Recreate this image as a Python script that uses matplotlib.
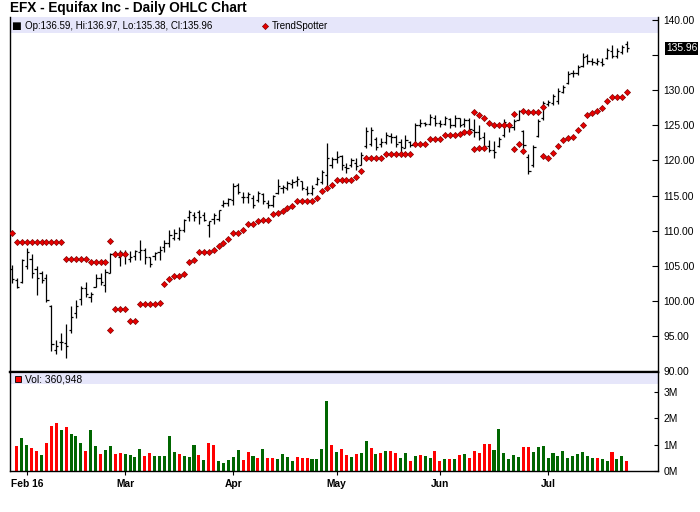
"""EFX daily OHLC chart with TrendSpotter dots and volume panel."""

import matplotlib

matplotlib.use("Agg")
import matplotlib.pyplot as plt
import numpy as np
from matplotlib.patches import Rectangle

plt.rcParams["font.family"] = ["Liberation Sans", "DejaVu Sans"]

# ---- data ----
opens = [
    104.6, 103.0, 102.7, 105.0, 106.0, 104.6, 103.9, 103.2, 99.3, 93.0,
    94.2, 94.0, 95.8, 98.2, 100.2, 101.8, 100.6, 101.9, 103.2, 102.2,
    104.0, 106.7, 106.3, 106.5, 106.0, 106.4, 107.0, 107.2, 106.2, 106.4,
    107.0, 107.7, 108.2, 108.9, 109.0, 110.1, 112.0, 112.2, 112.7, 112.2,
    110.8, 111.7, 111.7, 113.6, 113.9, 114.4, 116.5, 114.8, 114.8, 114.6,
    114.3, 115.2, 114.0, 113.6, 115.3, 116.0, 116.0, 116.6, 117.0, 117.0,
    115.9, 115.3, 116.6, 116.9, 117.9, 119.3, 120.2, 120.6, 119.1, 119.4,
    119.6, 119.4, 122.0, 122.4, 123.0, 122.3, 122.6, 123.5, 123.4, 122.6,
    121.8, 122.6, 122.4, 125.1, 125.3, 125.2, 126.0, 125.3, 125.2, 125.9,
    125.0, 126.0, 125.2, 125.8, 124.4, 124.0, 123.3, 122.0, 121.5, 122.0,
    123.6, 125.0, 124.8, 125.8, 124.2, 120.5, 119.3, 123.5, 126.0, 128.0,
    128.2, 128.5, 129.8, 131.0, 132.4, 132.5, 133.5, 134.9, 134.2, 133.9,
    134.0, 134.6, 135.6, 134.9, 135.4, 136.59,
]
highs = [
    105.1, 103.2, 105.9, 107.5, 106.7, 105.0, 104.2, 103.8, 99.4, 94.4,
    95.4, 96.7, 99.3, 100.1, 102.1, 102.7, 101.3, 103.8, 103.9, 104.6,
    106.8, 107.1, 107.2, 107.2, 107.1, 107.2, 108.7, 107.5, 106.3, 107.0,
    107.8, 108.7, 110.1, 110.3, 110.5, 111.7, 113.0, 112.7, 113.0, 112.7,
    111.4, 112.5, 113.0, 114.3, 114.7, 116.8, 116.8, 115.5, 115.5, 115.1,
    115.7, 115.4, 114.3, 115.1, 117.3, 116.5, 117.1, 117.4, 117.8, 117.1,
    116.3, 116.5, 117.6, 118.7, 122.5, 120.5, 121.4, 120.8, 119.7, 120.3,
    120.3, 121.2, 124.7, 124.7, 123.4, 123.2, 124.1, 123.95, 123.6, 123.0,
    123.6, 122.8, 125.3, 125.9, 125.5, 126.6, 126.5, 125.8, 126.3, 126.0,
    126.5, 126.0, 126.0, 126.0, 125.9, 125.0, 124.1, 122.9, 122.7, 123.4,
    125.85, 125.3, 125.85, 127.2, 124.4, 120.9, 122.2, 125.85, 128.5, 128.6,
    129.5, 130.3, 130.75, 132.8, 132.9, 133.6, 135.26, 135.16, 134.54, 134.54,
    134.54, 135.97, 136.44, 135.97, 136.44, 136.97,
]
lows = [
    102.5, 101.8, 102.5, 104.6, 103.3, 100.8, 102.6, 99.9, 92.9, 92.4,
    93.0, 91.8, 95.4, 97.5, 99.4, 100.6, 99.9, 101.9, 102.2, 101.3,
    103.9, 106.2, 104.9, 105.3, 105.6, 105.8, 105.8, 105.2, 104.8, 105.8,
    105.8, 106.9, 107.7, 108.6, 108.7, 109.8, 111.4, 111.4, 111.0, 111.3,
    109.1, 111.0, 111.3, 113.4, 113.5, 113.6, 115.2, 114.0, 114.0, 113.2,
    114.1, 113.8, 113.2, 113.4, 115.2, 115.4, 115.8, 116.0, 116.3, 115.8,
    115.1, 115.1, 116.5, 116.7, 115.8, 118.9, 119.6, 118.6, 118.2, 119.1,
    118.6, 119.3, 121.7, 122.05, 121.5, 121.9, 122.4, 122.5, 121.9, 121.1,
    121.7, 121.9, 122.3, 124.8, 124.9, 125.0, 124.9, 124.7, 125.0, 124.6,
    124.7, 124.7, 124.8, 124.1, 123.3, 122.9, 121.6, 121.2, 120.3, 121.9,
    123.4, 124.1, 124.4, 125.7, 121.7, 118.1, 119.1, 123.4, 125.7, 127.75,
    127.9, 128.1, 129.56, 130.9, 131.84, 132.17, 133.36, 133.8, 133.6, 133.6,
    133.45, 134.4, 134.54, 134.54, 135.16, 135.38,
]
closes = [
    103.1, 101.9, 105.8, 106.9, 103.9, 103.2, 103.0, 100.1, 93.9, 93.6,
    94.2, 93.5, 97.7, 99.3, 101.8, 101.0, 101.0, 103.3, 102.7, 104.1,
    106.7, 106.7, 107.0, 106.5, 106.3, 107.1, 107.2, 106.2, 105.3, 106.8,
    107.3, 108.3, 109.4, 109.7, 110.1, 111.5, 112.6, 112.0, 112.0, 111.5,
    111.3, 112.2, 112.9, 114.0, 114.5, 116.4, 115.5, 114.8, 115.2, 113.6,
    115.3, 114.2, 113.6, 114.9, 116.3, 116.2, 116.8, 116.9, 117.3, 116.0,
    115.4, 116.0, 117.3, 118.4, 120.3, 120.2, 120.5, 119.3, 118.9, 120.1,
    119.2, 120.8, 124.2, 124.4, 121.9, 122.6, 123.6, 123.4, 122.3, 121.9,
    122.9, 122.2, 125.0, 125.4, 125.2, 126.2, 125.3, 125.2, 126.0, 125.0,
    126.0, 125.0, 125.8, 124.5, 124.0, 123.2, 122.1, 121.5, 121.2, 123.0,
    125.5, 124.8, 125.6, 127.0, 122.2, 118.5, 121.9, 125.6, 128.2, 128.3,
    129.2, 129.9, 130.5, 132.3, 132.5, 133.3, 134.8, 134.2, 134.0, 134.2,
    133.7, 135.7, 134.9, 135.6, 136.2, 135.96,
]

# TrendSpotter dots: two rows, gaps where no dot is drawn
N = None
trend_upper = (
    [109.6] + [108.4] * 10 + [105.9] * 5 + [105.5] * 4 + [108.5] + [106.7] * 3
    + [N] * 70
    + [126.85, 126.4, 126.0, 125.4, 125.0, 125.0, 125.0, 125.0, 126.6, N,
       127.0, 126.9, 126.9, 126.9, 127.6]
    + [N] * 17
)
trend_lower = (
    [N] * 20
    + [95.9, 98.9, 98.9, 98.9, 97.1, 97.1, 99.5, 99.5, 99.6, 99.6,
       99.7, 102.35, 103.1, 103.5, 103.5, 103.8, 105.5, 105.8, 106.9, 106.9,
       106.9, 107.3, 107.8, 108.3, 108.8, 109.6, 109.7, 110.1, 110.9, 110.9,
       111.3, 111.5, 111.5, 112.3, 112.5, 112.8, 113.2, 113.5, 114.2, 114.2,
       114.2, 114.2, 114.6, 115.6, 116.0, 116.5, 117.2, 117.2, 117.2, 117.2,
       117.6, 118.5, 120.4, 120.4, 120.4, 120.4, 120.9, 120.9, 120.9, 120.9,
       120.9, 120.9, 122.3, 122.3, 122.3, 123.0, 123.1, 123.1, 123.6, 123.6,
       123.6, 123.8, 124.0, 124.0, 121.6, 121.7, 121.7]
    + [N] * 5
    + [121.6, 122.3, 121.4]
    + [N] * 3
    + [120.6, 120.4, 121.1, 122.0, 122.9, 123.2, 123.4, 124.3, 125.1, 126.4,
       126.7, 127.0, 127.4, 128.4, 129.1, 129.1, 129.1, 129.8]
)

# volume in millions of shares, and up (g) / down (r) colouring per bar
volume_m = [
    0, .95, 1.25, .98, .87, .76, .61, 1.06, 1.70, 1.82,
    1.55, 1.67, 1.40, 1.33, 1.06, .76, 1.55, .95, .64, .80,
    .95, .64, .68, .64, .61, .53, .83, .57, .68, .57,
    .57, .57, 1.33, .72, .64, .57, .53, .98, .61, .42,
    1.06, .98, .38, .30, .42, .53, .80, .42, .72, .57,
    .49, .83, .49, .49, .45, .64, .53, .38, .53, .49,
    .49, .45, .45, .83, 2.65, .98, .72, .83, .61, .52,
    .64, .68, 1.14, .87, .64, .68, .76, .76, .68, .49,
    .68, .38, .57, .61, .57, .49, .76, .38, .45, .45,
    .45, .61, .64, .49, .76, .68, 1.02, 1.02, .80, 1.59,
    .68, .45, .61, .53, .91, .91, .72, .91, .95, .49,
    .68, .57, .76, .49, .55, .64, .72, .57, .49, .49,
    .45, .38, .72, .45, .57, .361,
]
volume_dir = (
    "grggrrgrrr" "grgggrggrg" "grrggggrrg" "ggggrgggrg" "rrgggggrrg"
    "rgrrggggrr" "rggggrgrrg" "rggrgrgrrg" "grgrggrrgr" "grgrrrrrgg"
    "ggggrrgggg" "gggggggggr" "ggrggr"
)

month_labels = ["Feb 16", "Mar", "Apr", "May", "Jun", "Jul"]
month_bars = [3, 23, 45, 66, 87, 109]

price_ticks = list(range(90, 141, 5))
volume_ticks = [0, 1, 2, 3]
last_volume = "360,948"

# ---- layout helpers (pixel boxes on a 700x512 canvas) ----
W, H = 700, 512


def _box(x0, y0, x1, y1):
    return [x0 / W, 1 - y1 / H, (x1 - x0) / W, (y1 - y0) / H]


def _fx(px):
    return px / W


def _fy(py):
    return 1 - py / H


RED = "#ff0000"
GREEN = "#006600"
BAND = "#e6e6fa"
DOT_FACE = "#e80000"
DOT_EDGE = "#800000"
LEGEND_SIZE = 7.0
TICK_SIZE = 7.4

fig = plt.figure(figsize=(7, 5.12), dpi=100)
ax = fig.add_axes(_box(10, 17, 658, 372))
axv = fig.add_axes(_box(10, 372, 658, 471), sharex=ax)

n = len(closes)
x = np.arange(n)
o = np.array(opens)
h = np.array(highs)
lo = np.array(lows)
c = np.array(closes)

# OHLC bars
ax.vlines(x, lo, h, color="black", linewidth=0.9, zorder=3)
ax.hlines(o, x - 0.45, x, color="black", linewidth=0.9, zorder=3)
ax.hlines(c, x, x + 0.45, color="black", linewidth=0.9, zorder=3)

# TrendSpotter
up = np.array([np.nan if v is None else v for v in trend_upper], dtype=float)
dn = np.array([np.nan if v is None else v for v in trend_lower], dtype=float)
for series in (up, dn):
    ax.plot(x, series, linestyle="none", marker="D", markersize=3.1,
            markerfacecolor=DOT_FACE, markeredgecolor=DOT_EDGE,
            markeredgewidth=0.5, zorder=4)

ax.set_xlim(-0.41, 131.35)
ax.set_ylim(89.86, 140.43)
ax.yaxis.tick_right()
ax.set_yticks(price_ticks)
# the 135.00 label sits under the last-close tag, as in the reference
ax.set_yticklabels(["" if t == 135 else f"{t:.2f}" for t in price_ticks])
ax.tick_params(axis="y", direction="in", length=4, width=0.8, pad=4,
               labelsize=TICK_SIZE, colors="black")
ax.tick_params(axis="x", bottom=False, labelbottom=False)
ax.spines["top"].set_visible(False)
ax.spines["bottom"].set_linewidth(1.6)
for side in ("left", "right"):
    ax.spines[side].set_linewidth(1.0)

# legend band on the price panel
ax.add_patch(Rectangle((0, 1 - 16 / 355), 1, 16 / 355, transform=ax.transAxes,
                       facecolor=BAND, edgecolor="none", zorder=1))
fig.text(_fx(16), _fy(26), "\u25a0", fontsize=7.5, color="black",
         ha="center", va="center", family=["DejaVu Sans"])
fig.text(_fx(25), _fy(26),
         f"Op:{opens[-1]:.2f}, Hi:{highs[-1]:.2f}, Lo:{lows[-1]:.2f}, Cl:{closes[-1]:.2f}",
         fontsize=LEGEND_SIZE, ha="left", va="center")
fig.lines.append(plt.Line2D([_fx(265)], [_fy(26)], transform=fig.transFigure,
                            marker="D", markersize=3.1, linestyle="none",
                            markerfacecolor=DOT_FACE, markeredgecolor=DOT_EDGE,
                            markeredgewidth=0.5))
fig.text(_fx(272), _fy(26), "TrendSpotter", fontsize=LEGEND_SIZE, ha="left", va="center")

# last close tag
ax.text(1.012, closes[-1], f"{closes[-1]:.2f}", transform=ax.get_yaxis_transform(),
        fontsize=TICK_SIZE, color="white", ha="left", va="center",
        bbox=dict(boxstyle="square,pad=0.12", facecolor="black", edgecolor="none"))

# volume panel
colors = [GREEN if d == "g" else RED for d in volume_dir]
axv.bar(x, volume_m, width=0.62, color=colors, zorder=2)
axv.set_ylim(0, 3.75)
axv.yaxis.tick_right()
axv.set_yticks(volume_ticks)
axv.set_yticklabels([f"{t}M" for t in volume_ticks])
axv.tick_params(axis="y", direction="in", length=3, width=0.8, pad=4,
                labelsize=TICK_SIZE)
axv.set_xticks(month_bars)
axv.set_xticklabels(month_labels, fontweight="bold")
axv.tick_params(axis="x", direction="out", length=3, width=0.8, pad=3,
                labelsize=TICK_SIZE)
axv.spines["top"].set_linewidth(1.6)
for side in ("left", "right", "bottom"):
    axv.spines[side].set_linewidth(1.0)

axv.add_patch(Rectangle((0, 1 - 12 / 99), 1, 12 / 99, transform=axv.transAxes,
                        facecolor=BAND, edgecolor="none", zorder=1))
axv.add_patch(Rectangle((_fx(15), _fy(382)), 6 / W, 6 / H, transform=fig.transFigure,
                        facecolor=RED, edgecolor="black", linewidth=0.6,
                        zorder=5, clip_on=False))
fig.text(_fx(25), _fy(379), f"Vol: {last_volume}", fontsize=7.4, ha="left", va="center")

fig.text(_fx(10), _fy(8), "EFX - Equifax Inc - Daily OHLC Chart", fontsize=9.8,
         fontweight="bold", ha="left", va="center")

fig.savefig("out.png", dpi=100)
plt.close(fig)
